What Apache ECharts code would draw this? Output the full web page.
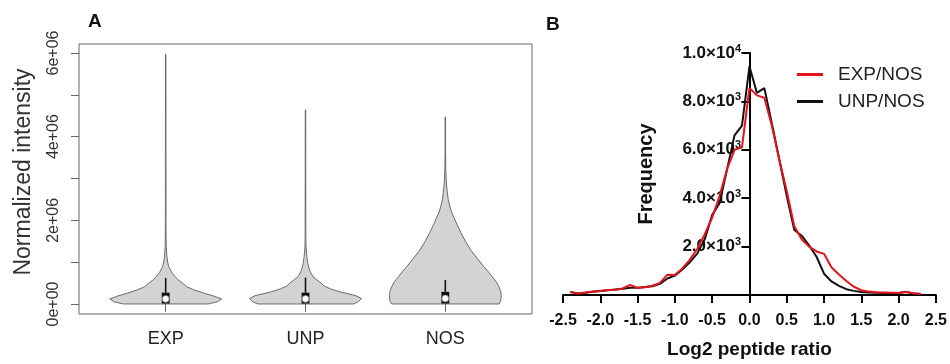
<!DOCTYPE html>
<html>
<head>
<meta charset="utf-8">
<script src="https://cdn.jsdelivr.net/npm/echarts@6/dist/echarts.min.js"></script>
<style>
  html, body { margin: 0; padding: 0; background: #fff; }
  #chart { width: 950px; height: 364px; }
</style>
</head>
<body>
<div id="chart"></div>
<script>
// ---- panel A: violins (intensity in units of 1e6) ----
var violinCategories = ['EXP', 'UNP', 'NOS'];

var expLevels  = [0, 0.05, 0.12, 0.18, 0.26, 0.34, 0.41, 0.5, 0.58, 0.65, 0.75, 0.89, 1.0, 1.1, 1.22, 1.4, 2.0, 5.97];
var expDensity = [0.76, 0.92, 1.0, 0.88, 0.68, 0.5, 0.38, 0.3, 0.22, 0.17, 0.11, 0.055, 0.035, 0.025, 0.016, 0.008, 0.005, 0.004];

var unpLevels  = [0, 0.06, 0.13, 0.2, 0.28, 0.36, 0.43, 0.5, 0.58, 0.65, 0.77, 0.89, 1.0, 1.13, 1.36, 1.6, 4.64];
var unpDensity = [0.86, 0.95, 1.0, 0.9, 0.64, 0.45, 0.33, 0.28, 0.2, 0.135, 0.085, 0.054, 0.038, 0.025, 0.01, 0.006, 0.004];

var nosLevels  = [0, 0.07, 0.2, 0.3, 0.41, 0.53, 0.65, 0.77, 0.89, 1.09, 1.29, 1.5, 1.7, 1.9, 2.08, 2.2, 2.32, 2.49, 2.73, 2.92, 3.2, 3.6, 4.47];
var nosDensity = [0.96, 0.99, 1.0, 0.99, 0.96, 0.91, 0.84, 0.77, 0.69, 0.57, 0.455, 0.36, 0.28, 0.21, 0.15, 0.11, 0.083, 0.053, 0.03, 0.018, 0.008, 0.005, 0.004];

var boxQ1      = [0.01, 0.01, 0.01];
var boxMedian  = [0.12, 0.12, 0.13];
var boxQ3      = [0.27, 0.27, 0.29];
var boxUpper   = [0.62, 0.63, 0.57];

var intensityTicks  = [0, 1, 2, 3, 4, 5, 6];
var intensityLabels = [0, 2, 4, 6];

// ---- panel B: log2 ratio histograms ----
var ratioBins = [-2.4, -2.3, -2.2, -2.1, -2.0, -1.9, -1.8, -1.7, -1.6, -1.5, -1.4, -1.3, -1.2, -1.1, -1.0,
                 -0.9, -0.8, -0.7, -0.6, -0.5, -0.4, -0.3, -0.2, -0.1, 0.0, 0.1, 0.2, 0.3, 0.4, 0.5,
                 0.6, 0.7, 0.8, 0.9, 1.0, 1.1, 1.2, 1.3, 1.4, 1.5, 1.6, 1.7, 1.8, 1.9, 2.0, 2.1, 2.2, 2.3];
var expNos = [110, 60, 100, 140, 170, 210, 220, 270, 420, 290, 320, 380, 500, 840, 830,
              1100, 1450, 1900, 2500, 3200, 4100, 5200, 6000, 6100, 8560, 8250, 8150, 7000, 5600, 4300,
              2850, 2300, 2000, 1800, 1700, 1150, 850, 580, 340, 200, 140, 110, 100, 90, 80, 120, 70, 40];
var unpNos = [130, 60, 90, 130, 170, 200, 230, 260, 300, 300, 330, 360, 460, 680, 800,
              1050, 1350, 1710, 2300, 3300, 3800, 5190, 6600, 7000, 9450, 8350, 8550, 7100, 5600, 4100,
              2700, 2450, 2050, 1580, 880, 560, 380, 240, 170, 120, 100, 90, 80, 70, 80, 130, 60, 40];

var profiles = [
  { levels: expLevels, density: expDensity },
  { levels: unpLevels, density: unpDensity },
  { levels: nosLevels, density: nosDensity }
];

function zipPoints(xs, ys) {
  return xs.map(function (x, i) { return [x, ys[i]]; });
}

var chart = echarts.init(document.getElementById('chart'));

function renderViolin(params, api) {
  var i = params.dataIndex;
  var c = api.value(0);
  var p = profiles[i];
  var right = [], left = [];
  for (var k = 0; k < p.levels.length; k++) {
    right.push(api.coord([c + p.density[k] * 0.4, p.levels[k]]));
    left.unshift(api.coord([c - p.density[k] * 0.4, p.levels[k]]));
  }
  var boxA = api.coord([c - 0.028, boxQ3[i]]);
  var boxB = api.coord([c + 0.028, boxQ1[i]]);
  var top = api.coord([c, boxUpper[i]]);
  var med = api.coord([c, boxMedian[i]]);
  return {
    type: 'group',
    children: [
      { type: 'polygon', shape: { points: right.concat(left) },
        style: { fill: '#d3d3d3', stroke: '#6a6a6a', lineWidth: 1 } },
      { type: 'line', shape: { x1: top[0], y1: top[1], x2: top[0], y2: boxA[1] },
        style: { stroke: '#111', lineWidth: 1.6 } },
      { type: 'rect', shape: { x: boxA[0], y: boxA[1], width: boxB[0] - boxA[0], height: boxB[1] - boxA[1] },
        style: { fill: '#111' } },
      { type: 'circle', shape: { cx: med[0], cy: med[1], r: 3.4 },
        style: { fill: '#fff', stroke: '#777', lineWidth: 0.6 } }
    ]
  };
}

// panel B y axis sits at x = 0, labels have to follow it
var gridBLeft = 563, gridBWidth = 374;
var zeroOffset = gridBWidth / 2;

var option = {
  animation: false,
  graphic: [
    { type: 'text', left: 88, top: 12, style: { text: 'A', font: 'bold 19px "Liberation Sans"', fill: '#111' } },
    { type: 'text', left: 546, top: 15, style: { text: 'B', font: 'bold 19px "Liberation Sans"', fill: '#111' } }
  ],
  grid: [
    { left: 79, top: 44, width: 453, height: 270, show: true, borderColor: '#666', borderWidth: 1 },
    { left: gridBLeft, top: 53, width: gridBWidth, height: 250 }
  ],
  legend: {
    data: [
      { name: 'EXP/NOS', icon: 'rect' },
      { name: 'UNP/NOS', icon: 'rect' }
    ],
    orient: 'vertical',
    left: 792,
    top: 60,
    itemWidth: 26,
    itemHeight: 3,
    itemGap: 8,
    textStyle: { fontFamily: 'Liberation Sans', fontSize: 19, color: '#222', padding: [0, 0, 0, 10] }
  },
  xAxis: [
    {
      gridIndex: 0, type: 'value', min: 0.38, max: 3.62,
      axisLine: { show: false },
      splitLine: { show: false },
      axisTick: { show: true, length: 8, customValues: [1, 2, 3], lineStyle: { color: '#666' } },
      axisLabel: {
        customValues: [1, 2, 3], margin: 16,
        fontFamily: 'Liberation Sans', fontSize: 18, color: '#222',
        formatter: function (v) { return violinCategories[v - 1]; }
      }
    },
    {
      gridIndex: 1, type: 'value', min: -2.5, max: 2.5, interval: 0.5,
      axisLine: { lineStyle: { color: '#000', width: 2 } },
      splitLine: { show: false },
      axisTick: { length: 8, lineStyle: { color: '#000', width: 2 } },
      axisLabel: {
        margin: 18, fontFamily: 'Liberation Sans', fontWeight: 'bold', fontSize: 16, color: '#111',
        formatter: function (v) { return v.toFixed(1); }
      },
      name: 'Log2 peptide ratio', nameLocation: 'middle', nameGap: 45,
      nameTextStyle: { fontFamily: 'Liberation Sans', fontWeight: 'bold', fontSize: 19, color: '#111' }
    }
  ],
  yAxis: [
    {
      gridIndex: 0, type: 'value', min: -0.24, max: 6.215,
      axisLine: { show: false },
      splitLine: { show: false },
      axisTick: { show: true, length: 8, customValues: intensityTicks, lineStyle: { color: '#666' } },
      axisLabel: {
        customValues: intensityLabels, rotate: 90, margin: 17,
        fontFamily: 'Liberation Sans', fontSize: 16, color: '#333',
        formatter: function (v) { return v === 0 ? '0e+00' : v + 'e+06'; }
      },
      name: 'Normalized intensity', nameLocation: 'middle', nameGap: 44,
      nameTextStyle: { fontFamily: 'Liberation Sans', fontSize: 23, color: '#333', padding: [0, 0, 0, 14] }
    },
    {
      gridIndex: 1, type: 'value', min: 0, max: 10000, interval: 2000,
      axisLine: { onZero: true, lineStyle: { color: '#000', width: 2 } },
      splitLine: { show: false },
      axisTick: { length: 8, lineStyle: { color: '#000', width: 2 } },
      axisLabel: {
        margin: 9 - zeroOffset, color: '#111',
        formatter: function (v) {
          if (v === 0) return '';
          var e = v >= 10000 ? 4 : 3;
          return '{m|' + (v / Math.pow(10, e)).toFixed(1) + '×10}{s|' + e + '}';
        },
        rich: {
          m: { fontFamily: 'Liberation Sans', fontWeight: 'bold', fontSize: 17, color: '#111', lineHeight: 20 },
          s: { fontFamily: 'Liberation Sans', fontWeight: 'bold', fontSize: 11, color: '#111', lineHeight: 20, verticalAlign: 'top' }
        }
      },
      name: 'Frequency', nameLocation: 'middle', nameGap: -93,
      nameTextStyle: { fontFamily: 'Liberation Sans', fontWeight: 'bold', fontSize: 20, color: '#111' }
    }
  ],
  series: [
    {
      type: 'custom',
      xAxisIndex: 0, yAxisIndex: 0,
      renderItem: renderViolin,
      encode: { x: 0, y: 1 },
      data: violinCategories.map(function (c, i) { return [i + 1, boxMedian[i]]; }),
      silent: true
    },
    {
      name: 'EXP/NOS', type: 'line', xAxisIndex: 1, yAxisIndex: 1,
      data: zipPoints(ratioBins, expNos),
      symbol: 'none',
      lineStyle: { color: '#e3141c', width: 2 },
      itemStyle: { color: '#e3141c' },
      z: 3
    },
    {
      name: 'UNP/NOS', type: 'line', xAxisIndex: 1, yAxisIndex: 1,
      data: zipPoints(ratioBins, unpNos),
      symbol: 'none',
      lineStyle: { color: '#111', width: 2 },
      itemStyle: { color: '#111' },
      z: 2
    }
  ]
};

chart.setOption(option);
</script>
</body>
</html>
